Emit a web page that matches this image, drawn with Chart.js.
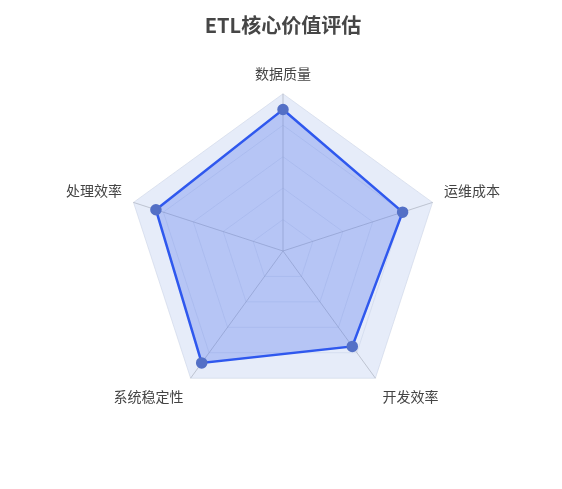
<!DOCTYPE html>
<html lang="zh">
<head>
<meta charset="UTF-8">
<title>ETL核心价值评估</title>
<script src="https://cdn.jsdelivr.net/npm/chart.js@4/dist/chart.umd.min.js"></script>
<style>
  html, body { margin: 0; padding: 0; background: #fff; }
  #wrap { width: 562px; height: 489px; }
</style>
</head>
<body>
<div id="wrap"><canvas id="chart"></canvas></div>
<script>
const categories = ['数据质量', '运维成本', '开发效率', '系统稳定性', '处理效率'];
const scores = [90, 80, 75, 88, 85];
const maxScore = 100;

// light band behind the grid, like a split area
const pentagonBg = {
  id: 'pentagonBg',
  beforeDatasetsDraw(chart) {
    const r = chart.scales.r;
    const ctx = chart.ctx;
    ctx.save();
    ctx.beginPath();
    categories.forEach((_, i) => {
      const p = r.getPointPositionForValue(i, maxScore);
      if (i === 0) ctx.moveTo(p.x, p.y); else ctx.lineTo(p.x, p.y);
    });
    ctx.closePath();
    ctx.fillStyle = 'rgba(200,212,242,0.45)';
    ctx.fill();
    ctx.restore();
  }
};

new Chart(document.getElementById('chart'), {
  type: 'radar',
  data: {
    labels: categories,
    datasets: [{
      label: 'ETL',
      data: scores,
      borderColor: '#2f58ee',
      borderWidth: 2.5,
      backgroundColor: 'rgba(80,115,235,0.32)',
      fill: true,
      pointBackgroundColor: '#5470c6',
      pointBorderColor: '#5470c6',
      pointRadius: 4.5,
      tension: 0,
    }],
  },
  options: {
    responsive: true,
    maintainAspectRatio: false,
    animation: false,
    layout: { padding: { top: 2, bottom: 66, left: 48, right: 44 } },
    plugins: {
      legend: { display: false },
      tooltip: { enabled: false },
      title: {
        display: true,
        text: 'ETL核心价值评估',
        color: '#464646',
        font: { family: '"Noto Sans CJK SC", "Noto Sans", sans-serif', size: 20, weight: 'bold' },
        padding: { top: 11, bottom: 14 },
      },
    },
    scales: {
      r: {
        min: 0,
        max: maxScore,
        ticks: { display: false, stepSize: 20 },
        grid: { color: 'rgba(170,180,205,0.35)', lineWidth: 1 },
        angleLines: { color: 'rgba(150,150,150,0.7)', lineWidth: 1 },
        pointLabels: {
          color: '#444',
          padding: 12,
          font: { family: '"Noto Sans CJK SC", "Noto Sans", sans-serif', size: 14 },
        },
      },
    },
  },
  plugins: [pentagonBg],
});
</script>
</body>
</html>
